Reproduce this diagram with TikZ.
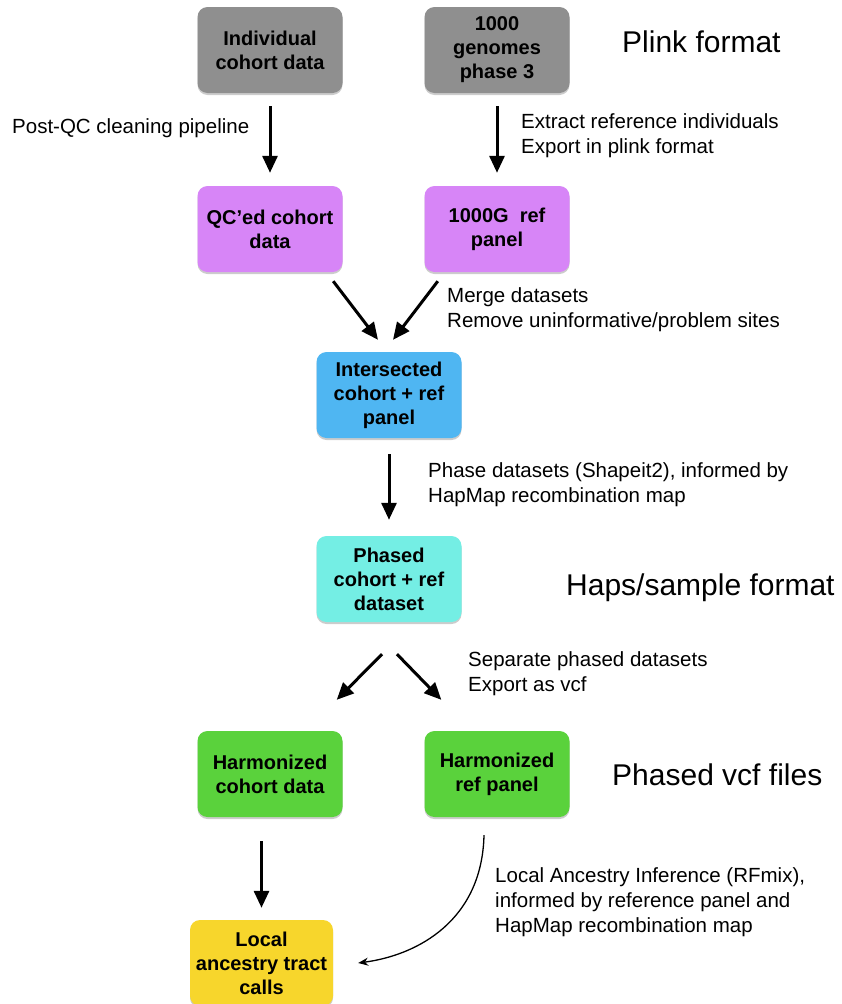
\documentclass[tikz,border=0pt]{standalone}
\usepackage{fontspec}
\setmainfont{Liberation Sans}
\usetikzlibrary{arrows.meta,shadows,calc}
\definecolor{cgray}{HTML}{8F8F8F}
\definecolor{cpurple}{HTML}{D785F7}
\definecolor{cblue}{HTML}{4FB6F2}
\definecolor{ccyan}{HTML}{74EEE4}
\definecolor{cgreen}{HTML}{5AD23C}
\definecolor{cyellow}{HTML}{F7D62C}
\tikzset{
  box/.style={rounded corners=10pt, minimum width=145pt, minimum height=86pt,
    align=center, inner sep=0pt, font=\fontsize{20}{24}\selectfont\bfseries,
    drop shadow={shadow xshift=0pt, shadow yshift=-2pt, opacity=0.2, fill=black}},
  flow/.style={line width=3pt, -{Triangle[length=17pt,width=15pt]}},
  thinflow/.style={line width=1.3pt, -{Stealth[length=10pt,width=8pt]}},
  note/.style={anchor=west, align=left, inner sep=0pt, font=\fontsize{20.5}{25}\selectfont},
  fmt/.style={anchor=west, inner sep=0pt, font=\fontsize{30}{36}\selectfont},
}
\begin{document}
\begin{tikzpicture}[x=1pt, y=-1pt]
\useasboundingbox (0,0) rectangle (841,1004);
\clip (0,0) rectangle (841,1004);
\fill[white] (0,0) rectangle (841,1004);

% boxes
\node[box, fill=cgray] (ind) at (270,50) {Individual\\cohort data};
\node[box, fill=cgray] (kg) at (497,50) {1000\\genomes\\phase 3};
\node[box, fill=cpurple] (qc) at (270,229) {QC'ed cohort\\data};
\node[box, fill=cpurple] (ref) at (497,229) {1000G\ \ ref\\panel};
\node[box, fill=cblue] (inter) at (389,395) {Intersected\\cohort + ref\\panel};
\node[box, fill=ccyan] (phased) at (389,579) {Phased\\cohort + ref\\dataset};
\node[box, fill=cgreen] (hc) at (270,774) {Harmonized\\cohort data};
\node[box, fill=cgreen] (hr) at (497,774) {Harmonized\\ref panel};
\node[box, fill=cyellow, minimum width=143pt] (lat) at (261.5,963) {Local\\ancestry tract\\calls};

% format labels
\node[fmt] (f1) at (622,42) {Plink format};
\node[fmt] (f2) at (566,588) {Haps/sample format};
\node[fmt] (f3) at (612,775) {Phased vcf files};

% notes
\node[note] (n1) at (12,128) {Post-QC cleaning pipeline};
\node[note] (n2) at (521,135.5) {Extract reference individuals\\Export in plink format};
\node[note] (n3) at (447,310) {Merge datasets\\Remove uninformative/problem sites};
\node[note] (n4) at (428,485) {Phase datasets (Shapeit2), informed by\\HapMap recombination map};
\node[note] (n5) at (468,674) {Separate phased datasets\\Export as vcf};
\node[note] (n6) at (495,902) {Local Ancestry Inference (RFmix),\\informed by reference panel and\\HapMap recombination map};

% connectors
\draw[flow, shorten <=13pt, shorten >=13pt] (ind.south) -- (qc.north);
\draw[flow, shorten <=13pt, shorten >=13pt] (kg.south) -- (ref.north);
\draw[flow] ($(qc.south east)+(-9.5,9)$) -- ($(inter.north)+(-11,-12)$);
\draw[flow] ($(ref.south west)+(13.5,9)$) -- ($(inter.north)+(4,-12)$);
\draw[flow, shorten <=16pt, shorten >=16pt] (inter.south) -- (phased.north);
\draw[flow] ($(phased.south)+(-7,32)$) -- ($(hc.north east)+(-6,-31)$);
\draw[flow] ($(phased.south)+(8,32)$) -- ($(hr.north west)+(17,-31)$);
\draw[flow, shorten <=24pt, shorten >=12pt] (lat.north |- hc.south) -- (lat.north);
\coordinate (cs) at ($(hr.south)+(-13,18)$);
\coordinate (ce) at ($(lat.east)+(25,0)$);
\draw[thinflow] (cs) .. controls ($(cs)+(-2,85)$) and ($(ce)+(60,-8)$) .. (ce);
\end{tikzpicture}
\end{document}
